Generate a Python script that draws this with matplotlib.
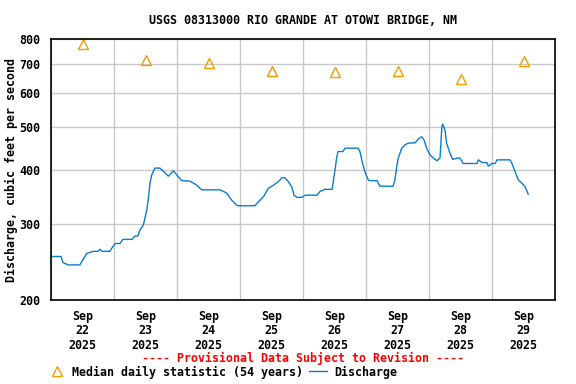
import matplotlib
matplotlib.use("Agg")
import matplotlib.pyplot as plt
from matplotlib.lines import Line2D
from matplotlib.ticker import FixedLocator, NullFormatter, NullLocator

# hours since Sep 22 2025 00:00 and discharge (cfs)
hours = [0.3, 3.8, 4.6, 6.5, 11.0, 12.2, 13.6, 16.0, 17.9, 18.7, 19.4, 22.5, 23.1,
         24.4, 26.3, 27.4, 30.9, 32.0, 33.1, 33.9, 35.2, 36.5, 37.1, 37.7, 38.4,
         39.6, 41.5, 42.7, 44.7, 46.6, 47.9, 49.8, 53.0, 55.5, 57.4, 64.4, 66.9,
         68.8, 70.7, 71.2, 77.7, 79.0, 80.9, 82.8, 84.7, 86.6, 88.0, 89.1, 90.4,
         91.7, 92.6, 93.7, 95.6, 96.8, 101.3, 102.5, 104.4, 107.1, 107.6, 108.2,
         108.8, 109.3, 111.2, 112.0, 116.9, 117.7, 118.7, 119.6, 120.9, 121.5,
         124.2, 125.3, 130.3, 131.0, 131.7, 132.3, 133.6, 134.9, 136.0, 138.7,
         139.9, 141.2, 142.1, 143.1, 144.4, 145.7, 147.0, 148.2, 148.9, 149.2,
         150.1, 150.7, 152.0, 153.0, 154.7, 155.8, 157.0, 162.3, 162.8, 164.2,
         166.1, 166.6, 168.0, 169.2, 169.9, 174.9, 175.6, 176.8, 178.1, 179.4,
         180.6, 181.8]
discharge = [252, 252, 244, 241, 241, 248, 256, 259, 259, 262, 259, 259, 263,
             270, 270, 276, 276, 281, 281, 290, 298, 323, 343, 372, 389,
             403, 403, 397, 386, 397, 389, 377, 376, 368, 359, 359, 353,
             340, 331, 330, 330, 337, 346, 362, 368, 375, 383, 383, 375,
             365, 349, 345, 345, 349, 349, 356, 360, 360, 378, 399,
             425, 440, 440, 448, 448, 440, 413, 395, 378, 377,
             377, 366, 366, 378, 406, 425, 448, 456, 460, 461,
             470, 476, 468, 448, 432, 425, 419, 425, 502, 509,
             493, 460, 436, 422, 425, 425, 413, 413, 421, 415,
             415, 407, 413, 413, 421, 421, 413, 395, 378, 372,
             365, 351]

# median daily statistic, plotted at noon of each day
median_hours = [12, 36, 60, 84, 108, 132, 156, 180]
median_vals = [779, 715, 704, 675, 670, 675, 647, 712]

day_labels = ["Sep\n22\n2025", "Sep\n23\n2025", "Sep\n24\n2025", "Sep\n25\n2025",
              "Sep\n26\n2025", "Sep\n27\n2025", "Sep\n28\n2025", "Sep\n29\n2025"]
y_ticks = [200, 300, 400, 500, 600, 700, 800]

font = {"family": "DejaVu Sans Mono", "weight": "bold", "size": 8.4}
orange = "#f39c00"
blue = "#0a7ccf"

fig = plt.figure(figsize=(5.76, 3.84), dpi=100)
ax = fig.add_axes([51 / 576, 84 / 384, 504 / 576, 261 / 384])

ax.plot(hours, discharge, color=blue, lw=1.0)
ax.plot(median_hours, median_vals, ls="none", marker="^", ms=7.5,
        mfc="none", mec=orange, mew=1.0)

ax.set_yscale("log")
ax.set_ylim(200, 800)
ax.yaxis.set_major_locator(FixedLocator(y_ticks))
ax.yaxis.set_minor_locator(NullLocator())
ax.yaxis.set_minor_formatter(NullFormatter())
ax.set_yticks(y_ticks)
ax.set_yticklabels([str(v) for v in y_ticks], fontdict=font)

ax.set_xlim(0, 192)
ax.set_xticks(median_hours)
ax.set_xticklabels(day_labels, fontdict=font, linespacing=1.15)
ax.set_xticks(range(0, 193, 24), minor=True)

ax.grid(False)
ax.grid(True, axis="y", which="major", color="#c8c8c8", lw=1)
ax.grid(True, axis="x", which="minor", color="#c8c8c8", lw=1)
ax.tick_params(axis="both", which="both", length=0)
ax.tick_params(axis="y", pad=8)
ax.tick_params(axis="x", pad=7)
for s in ax.spines.values():
    s.set_linewidth(1.2)

ax.set_ylabel("Discharge, cubic feet per second", fontdict=font)
ax.yaxis.set_label_coords(-33 / 504, 0.5)
fig.text(303 / 576, 1 - 20 / 384, "USGS 08313000 RIO GRANDE AT OTOWI BRIDGE, NM",
         ha="center", va="center", **font)
fig.text(303 / 576, 1 - 358 / 384, "---- Provisional Data Subject to Revision ----",
         ha="center", va="center", color="red", **font)

handles = [Line2D([], [], ls="none", marker="^", ms=7.5, mfc="none", mec=orange, mew=1.0),
           Line2D([], [], color=blue, lw=1.0)]
fig.legend(handles, ["Median daily statistic (54 years)", "Discharge"],
           loc="center left", bbox_to_anchor=(48 / 576, 1 - 372 / 384), ncol=2,
           frameon=False, prop=font, handlelength=1.5, handletextpad=0.6,
           columnspacing=0.5, borderpad=0, borderaxespad=0)

fig.savefig("out.png", dpi=100)
